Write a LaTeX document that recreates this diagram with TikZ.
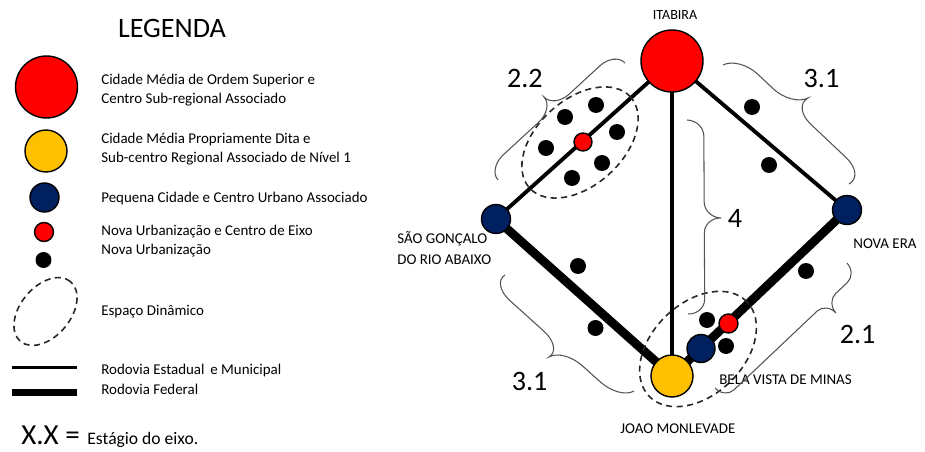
\documentclass[tikz,border=0pt]{standalone}
\usepackage{fontspec}
\setmainfont{Carlito}
\usetikzlibrary{shapes.geometric,backgrounds,calc}
\definecolor{cred}{HTML}{FF0000}
\definecolor{cgold}{HTML}{FFC000}
\definecolor{cnavy}{HTML}{002060}
% Word-like curly brace: #1 start, #2 end, #3 tip, #4 tip fraction, #5 arc fraction
\newcommand\wbrace[5]{%
  \pgfmathsetmacro\wbt{#4}%
  \pgfmathsetmacro\wba{#5}%
  \pgfmathsetmacro\wbaa{0.448*#5}%
  \pgfmathsetmacro\wbtm{#4-#5}%
  \pgfmathsetmacro\wbtmm{#4-0.448*#5}%
  \pgfmathsetmacro\wbtp{#4+#5}%
  \pgfmathsetmacro\wbtpp{#4+0.448*#5}%
  \pgfmathsetmacro\wbe{1-#5}%
  \pgfmathsetmacro\wbee{1-0.448*#5}%
  \coordinate (wbM) at ($(#1)!#4!(#2)$);%
  \begin{scope}[x={($(#2)-(#1)$)}, y={($(#3)-(wbM)$)}, shift={(#1)}]
    \draw[brcline] (0,0) .. controls (0,0.276) and (\wbaa,0.5) .. (\wba,0.5)
      -- (\wbtm,0.5) .. controls (\wbtmm,0.5) and (\wbt,0.724) .. (\wbt,1)
      .. controls (\wbt,0.724) and (\wbtpp,0.5) .. (\wbtp,0.5)
      -- (\wbe,0.5) .. controls (\wbee,0.5) and (1,0.276) .. (1,0);
  \end{scope}}
\begin{document}
\begin{tikzpicture}[x=0.02cm,y=-0.02cm,
  city/.style={circle, draw=black, line width=0.8pt, inner sep=0pt},
  bigred/.style={city, fill=cred, minimum size=1.24cm},
  gold/.style={city, fill=cgold, minimum size=0.84cm},
  navy/.style={city, fill=cnavy, minimum size=0.58cm},
  smallred/.style={city, fill=cred, minimum size=0.38cm},
  dot/.style={circle, fill=black, inner sep=0pt, minimum size=0.32cm},
  dyn/.style={ellipse, draw=black!85, dash pattern=on 3.5pt off 2.5pt, line width=0.9pt, inner sep=0pt},
  road/.style={line width=2.2pt},
  fed/.style={line width=5pt},
  brcline/.style={draw=gray!65!black, line width=0.6pt},
  lbl/.style={font=\fontsize{8.5}{10}\selectfont, anchor=base west, inner sep=0pt},
  num/.style={font=\fontsize{16}{18}\selectfont, anchor=base west, inner sep=0pt}
]
\useasboundingbox (0,0) rectangle (925,452);

% ---------------- Legend ----------------
\node[font=\fontsize{16}{18}\selectfont, anchor=base, inner sep=0pt] (leg) at (172,37.3) {LEGENDA};
\node[bigred] (l1) at (46.5,87) {};
\node[lbl] (t1a) at (101,85) {Cidade Média de Ordem Superior e};
\node[lbl] (t1b) at (101,103.5) {Centro Sub-regional Associado};
\node[gold] (l2) at (46,151) {};
\node[lbl] (t2a) at (101,143.5) {Cidade Média Propriamente Dita e};
\node[lbl] (t2b) at (101,162.8) {Sub-centro Regional Associado de Nível 1};
\node[navy] (l3) at (44.5,197.5) {};
\node[lbl] (t3) at (101,202.7) {Pequena Cidade e Centro Urbano Associado};
\node[smallred] (l4) at (44,232) {};
\node[lbl] (t4a) at (101,235.7) {Nova Urbanização e Centro de Eixo};
\node[dot] (l5) at (43.5,260) {};
\node[lbl] (t4b) at (101,255) {Nova Urbanização};
\node[dyn, minimum width=1.56cm, minimum height=1.0cm, rotate=50] (l6) at (45.5,311.5) {};
\node[lbl] (t6) at (101,315) {Espaço Dinâmico};
\coordinate (r1a) at (12,367.5);
\coordinate (r1b) at (77,367.5);
\coordinate (r2a) at (12,392.5);
\coordinate (r2b) at (77,392.5);
\draw[line width=2.2pt] (r1a) -- (r1b);
\draw[line width=4.4pt] (r2a) -- (r2b);
\node[lbl] (t7a) at (101,374) {Rodovia Estadual\, e Municipal};
\node[lbl] (t7b) at (101,394) {Rodovia Federal};
\node[font=\fontsize{16.5}{18}\selectfont, anchor=base west, inner sep=0pt] (xx) at (21,444) {X.X =};
\node[font=\fontsize{10}{12}\selectfont, anchor=base west, inner sep=0pt] (xxt) at (87,444) {Estágio do eixo.};

% ---------------- Diagram ----------------
\node[dyn, minimum width=2.72cm, minimum height=1.72cm, rotate=42] (e22) at (580,142.5) {};
\node[dyn, minimum width=2.72cm, minimum height=1.84cm, rotate=44] (ejm) at (698,349) {};

\node[bigred] (ita) at (672,61) {};
\node[navy] (sg) at (496,219) {};
\node[navy] (ne) at (847,210) {};
\node[gold] (jm) at (672,376) {};
\node[navy, minimum size=0.56cm] (bv) at (701,348.5) {};
\node[smallred] (bvr) at (728.5,323.5) {};
\node[smallred, minimum size=0.36cm] (r22) at (583,142) {};

\begin{scope}[on background layer]
\draw[road] (ita.center) -- (sg.center);
\draw[road] (ita.center) -- (jm.center);
\draw[road] (ita.center) -- (ne.center);
\draw[fed] (sg.center) -- (jm.center);
\draw[fed] (ne.center) -- (jm.center);
\end{scope}

% dots
\foreach \p [count=\i] in {(596,105),(565,117),(617,132),(546,148),(602,163),(572,178),
  (752,107),(769,165),(578,266),(595.5,328),(806,271),(707,320),(726,346)}
  \node[dot] (d\i) at \p {};

% labels
\node[lbl, font=\fontsize{8}{10}\selectfont, anchor=base] (nita) at (675,19.3) {ITABIRA};
\node[lbl] (nsg1) at (397,243.4) {SÃO GONÇALO};
\node[lbl] (nsg2) at (397,264.3) {DO RIO ABAIXO};
\node[lbl] (nne) at (853,248.7) {NOVA ERA};
\node[lbl] (nbv) at (719,384) {BELA VISTA DE MINAS};
\node[lbl] (njm) at (620,433) {JOAO MONLEVADE};

% braces
\coordinate (b22a) at (498,180); \coordinate (b22b) at (625,63);  \coordinate (b22t) at (544,97);
\coordinate (b31a) at (723,65);  \coordinate (b31b) at (849,184); \coordinate (b31t) at (808,98);
\coordinate (b4a) at (687,120);  \coordinate (b4b) at (688,314);  \coordinate (b4t) at (721,218);
\coordinate (b21a) at (847,263); \coordinate (b21b) at (715,388); \coordinate (b21t) at (836,313);
\coordinate (b3la) at (505,275); \coordinate (b3lb) at (634,391); \coordinate (b3lt) at (549,357);
\wbrace{b22a}{b22b}{b22t}{0.52}{0.12}
\wbrace{b31a}{b31b}{b31t}{0.42}{0.15}
\wbrace{b4a}{b4b}{b4t}{0.5}{0.08}
\wbrace{b21a}{b21b}{b21t}{0.23}{0.07}
\wbrace{b3la}{b3lb}{b3lt}{0.56}{0.15}

\node[num] (n22) at (506.7,87.3) {2.2};
\node[num] (n31u) at (803.3,87.3) {3.1};
\node[num] (n4) at (727.6,227.8) {4};
\node[num] (n21) at (839.5,343.5) {2.1};
\node[num] (n31l) at (511.4,390.5) {3.1};
\end{tikzpicture}
\end{document}
